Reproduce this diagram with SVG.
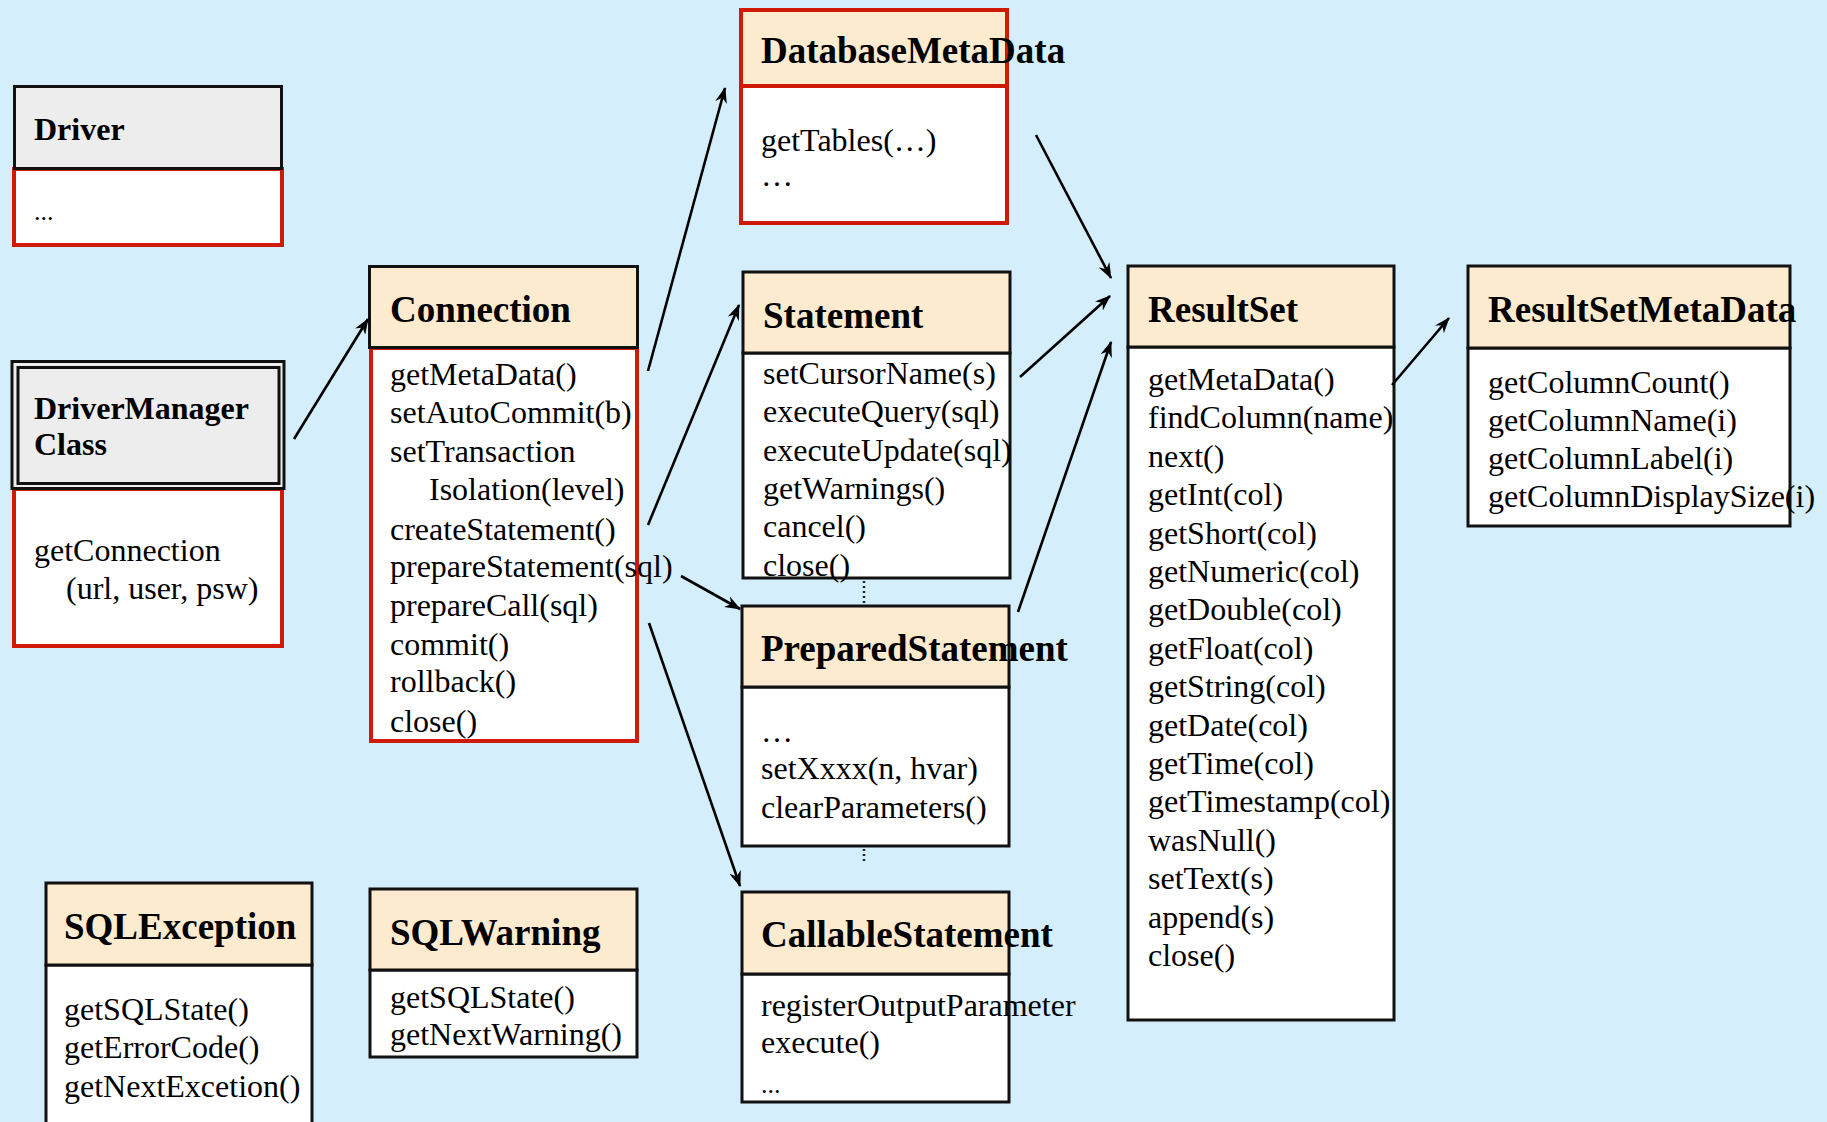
<svg xmlns="http://www.w3.org/2000/svg" width="1827" height="1122" viewBox="0 0 1827 1122">
  <style>
    text { font-family: "Liberation Serif", "Times New Roman", serif; fill: #000; }
    .title { font-size: 37px; font-weight: bold; }
    .title2 { font-size: 32px; font-weight: bold; }
    .body { font-size: 32px; }
    .small { font-size: 26px; }
    .hdr { fill: #FDEBD0; stroke: #111; stroke-width: 3; }
    .hdrRed { fill: #FDEBD0; stroke: #CF1B05; stroke-width: 4; }
    .hdrGray { fill: #EDEDED; stroke: #111; stroke-width: 3; }
    .bdy { fill: #FFFFFF; stroke: #111; stroke-width: 3; }
    .bdyRed { fill: #FFFFFF; stroke: #CF1B05; stroke-width: 4; }
    .edge { stroke: #000; stroke-width: 2.6; fill: none; marker-end: url(#arrow); }
    .dots { stroke: #222; stroke-width: 2.5; stroke-dasharray: 2 3; fill: none; }
  </style>
  <defs>
    <marker id="arrow" viewBox="0 0 16 12" refX="15" refY="6" markerWidth="16" markerHeight="12" markerUnits="userSpaceOnUse" orient="auto">
      <path d="M0,0 L16,6 L0,12 L5,6 z" fill="#000"/>
    </marker>
  </defs>

  <rect x="0" y="0" width="1827" height="1122" fill="#D4EEFC"/>

  <!-- Driver -->
  <g id="driver">
    <rect class="bdyRed" x="14" y="169" width="268" height="76"/>
    <rect class="hdrGray" x="14.5" y="86.5" width="267" height="82"/>
    <text class="title2" x="34" y="140">Driver</text>
    <text class="small" x="34" y="220">...</text>
  </g>

  <!-- DriverManager -->
  <g id="driverManager">
    <rect class="bdyRed" x="14" y="489" width="268" height="157"/>
    <rect x="12" y="361.5" width="272" height="127" fill="#EDEDED" stroke="#111" stroke-width="3"/>
    <rect x="18" y="367.5" width="261" height="116" fill="none" stroke="#111" stroke-width="3"/>
    <text class="title2" x="34" y="419">DriverManager</text>
    <text class="title2" x="34" y="455">Class</text>
    <text class="body" x="34" y="561">getConnection</text>
    <text class="body" x="66" y="599">(url, user, psw)</text>
  </g>

  <!-- Connection -->
  <g id="connection">
    <rect class="bdyRed" x="371" y="348" width="266" height="393"/>
    <rect class="hdr" x="369.5" y="266.5" width="268" height="81"/>
    <text class="title" x="390" y="322">Connection</text>
    <text class="body" x="390" y="385">getMetaData()</text>
    <text class="body" x="390" y="423">setAutoCommit(b)</text>
    <text class="body" x="390" y="462">setTransaction</text>
    <text class="body" x="429" y="500">Isolation(level)</text>
    <text class="body" x="390" y="540">createStatement()</text>
    <text class="body" x="390" y="577">prepareStatement(sql)</text>
    <text class="body" x="390" y="616">prepareCall(sql)</text>
    <text class="body" x="390" y="655">commit()</text>
    <text class="body" x="390" y="692">rollback()</text>
    <text class="body" x="390" y="732">close()</text>
  </g>

  <!-- DatabaseMetaData -->
  <g id="databaseMetaData">
    <rect class="hdrRed" x="741" y="10" width="266" height="76"/>
    <rect class="bdyRed" x="741" y="86" width="266" height="137"/>
    <text class="title" x="761" y="63">DatabaseMetaData</text>
    <text class="body" x="761" y="151">getTables(…)</text>
    <text class="body" x="761" y="186">…</text>
  </g>

  <!-- Statement -->
  <g id="statement">
    <rect class="bdy" x="743" y="353" width="267" height="225"/>
    <rect class="hdr" x="743" y="272" width="267" height="81"/>
    <text class="title" x="763" y="328">Statement</text>
    <text class="body" x="763" y="384">setCursorName(s)</text>
    <text class="body" x="763" y="422">executeQuery(sql)</text>
    <text class="body" x="763" y="461">executeUpdate(sql)</text>
    <text class="body" x="763" y="499">getWarnings()</text>
    <text class="body" x="763" y="537">cancel()</text>
    <text class="body" x="763" y="576">close()</text>
  </g>

  <!-- PreparedStatement -->
  <g id="preparedStatement">
    <rect class="bdy" x="742" y="687" width="267" height="159"/>
    <rect class="hdr" x="742" y="606" width="267" height="81"/>
    <text class="title" x="761" y="661">PreparedStatement</text>
    <text class="body" x="761" y="742">…</text>
    <text class="body" x="761" y="779">setXxxx(n, hvar)</text>
    <text class="body" x="761" y="818">clearParameters()</text>
  </g>

  <!-- CallableStatement -->
  <g id="callableStatement">
    <rect class="bdy" x="742" y="974" width="267" height="128"/>
    <rect class="hdr" x="742" y="892" width="267" height="82"/>
    <text class="title" x="761" y="947">CallableStatement</text>
    <text class="body" x="761" y="1016">registerOutputParameter</text>
    <text class="body" x="761" y="1053">execute()</text>
    <text class="small" x="761" y="1093">...</text>
  </g>

  <!-- ResultSet -->
  <g id="resultSet">
    <rect class="bdy" x="1128" y="347" width="266" height="673"/>
    <rect class="hdr" x="1128" y="266" width="266" height="81"/>
    <text class="title" x="1148" y="322">ResultSet</text>
    <text class="body" x="1148" y="390">getMetaData()</text>
    <text class="body" x="1148" y="428">findColumn(name)</text>
    <text class="body" x="1148" y="467">next()</text>
    <text class="body" x="1148" y="505">getInt(col)</text>
    <text class="body" x="1148" y="544">getShort(col)</text>
    <text class="body" x="1148" y="582">getNumeric(col)</text>
    <text class="body" x="1148" y="620">getDouble(col)</text>
    <text class="body" x="1148" y="659">getFloat(col)</text>
    <text class="body" x="1148" y="697">getString(col)</text>
    <text class="body" x="1148" y="736">getDate(col)</text>
    <text class="body" x="1148" y="774">getTime(col)</text>
    <text class="body" x="1148" y="812">getTimestamp(col)</text>
    <text class="body" x="1148" y="851">wasNull()</text>
    <text class="body" x="1148" y="889">setText(s)</text>
    <text class="body" x="1148" y="928">append(s)</text>
    <text class="body" x="1148" y="966">close()</text>
  </g>

  <!-- ResultSetMetaData -->
  <g id="resultSetMetaData">
    <rect class="bdy" x="1468" y="348" width="322" height="178"/>
    <rect class="hdr" x="1468" y="266" width="322" height="82"/>
    <text class="title" x="1488" y="322">ResultSetMetaData</text>
    <text class="body" x="1488" y="393">getColumnCount()</text>
    <text class="body" x="1488" y="431">getColumnName(i)</text>
    <text class="body" x="1488" y="469">getColumnLabel(i)</text>
    <text class="body" x="1488" y="507">getColumnDisplaySize(i)</text>
  </g>

  <!-- SQLException -->
  <g id="sqlException">
    <rect class="bdy" x="46" y="965" width="266" height="170"/>
    <rect class="hdr" x="46" y="883" width="266" height="82"/>
    <text class="title" x="64" y="939">SQLException</text>
    <text class="body" x="64" y="1020">getSQLState()</text>
    <text class="body" x="64" y="1058">getErrorCode()</text>
    <text class="body" x="64" y="1097">getNextExcetion()</text>
  </g>

  <!-- SQLWarning -->
  <g id="sqlWarning">
    <rect class="bdy" x="370" y="970" width="267" height="87"/>
    <rect class="hdr" x="370" y="889" width="267" height="81"/>
    <text class="title" x="390" y="945">SQLWarning</text>
    <text class="body" x="390" y="1008">getSQLState()</text>
    <text class="body" x="390" y="1045">getNextWarning()</text>
  </g>

  <!-- connectors -->
  <g id="connectors">
    <line class="edge" x1="294" y1="439" x2="368" y2="319"/>
    <line class="edge" x1="648" y1="371" x2="725" y2="88"/>
    <line class="edge" x1="648" y1="525" x2="739" y2="305"/>
    <line class="edge" x1="681" y1="576" x2="740" y2="609"/>
    <line class="edge" x1="649" y1="623" x2="740" y2="886"/>
    <line class="edge" x1="1036" y1="135" x2="1111" y2="278"/>
    <line class="edge" x1="1020" y1="377" x2="1110" y2="296"/>
    <line class="edge" x1="1018" y1="612" x2="1111" y2="342"/>
    <line class="edge" x1="1392" y1="385" x2="1449" y2="318"/>
    <line class="dots" x1="864" y1="581" x2="864" y2="604"/>
    <line class="dots" x1="864" y1="849" x2="864" y2="862"/>
  </g>
</svg>
